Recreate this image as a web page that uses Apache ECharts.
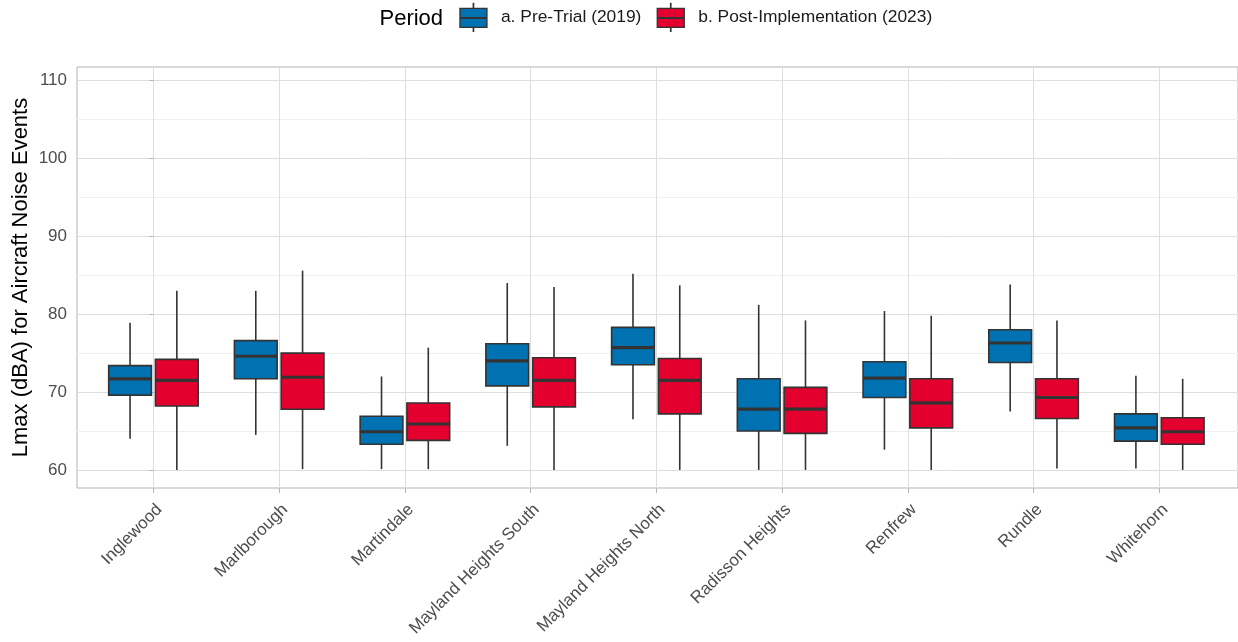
<!DOCTYPE html>
<html><head><meta charset="utf-8">
<script src="https://cdn.jsdelivr.net/npm/echarts@6/dist/echarts.min.js"></script>
<style>html,body{margin:0;padding:0;background:#fff}#c{width:1238px;height:642px}</style>
</head><body><div id="c"></div>
<script>
const categories = ['Inglewood', 'Marlborough', 'Martindale', 'Mayland Heights South', 'Mayland Heights North', 'Radisson Heights', 'Renfrew', 'Rundle', 'Whitehorn'];
const seriesNames = ['a. Pre-Trial (2019)', 'b. Post-Implementation (2023)'];
// each row: [lower whisker, Q1, median, Q3, upper whisker]
const preTrial = [
  [64.0, 69.6, 71.7, 73.4, 78.9],
  [64.5, 71.7, 74.6, 76.6, 83.0],
  [60.1, 63.3, 64.9, 66.9, 72.0],
  [63.1, 70.8, 74.0, 76.2, 84.0],
  [66.5, 73.5, 75.7, 78.3, 85.2],
  [60.0, 65.0, 67.8, 71.7, 81.2],
  [62.6, 69.3, 71.8, 73.9, 80.4],
  [67.5, 73.8, 76.3, 78.0, 83.8],
  [60.2, 63.7, 65.4, 67.2, 72.1]
];
const postImplementation = [
  [60.0, 68.2, 71.5, 74.2, 83.0],
  [60.1, 67.8, 71.9, 75.0, 85.6],
  [60.1, 63.8, 65.9, 68.6, 75.7],
  [60.0, 68.1, 71.5, 74.4, 83.5],
  [60.0, 67.2, 71.5, 74.3, 83.7],
  [60.0, 64.7, 67.8, 70.6, 79.2],
  [60.0, 65.4, 68.6, 71.7, 79.8],
  [60.2, 66.6, 69.3, 71.7, 79.2],
  [60.0, 63.3, 64.9, 66.7, 71.7]
];
const yTicks = [60, 70, 80, 90, 100, 110];
const yMinorTicks = [65, 75, 85, 95, 105];
const yTitle = 'Lmax (dBA) for Aircraft Noise Events';
const legendTitle = 'Period';

const colors = ['#0072B2', '#E3002F'];
const BOX_FRAC = 0.34;
const OFFSETS = [-0.186, 0.186];
const DARK = '#333333';
const FONT = 'Liberation Sans, Arial, sans-serif';

function makeRender(offsetFrac, color) {
  return function (params, api) {
    const i = api.value(0);
    const band = api.size([1, 0])[0];
    const w = band * BOX_FRAC;
    const cx = api.coord([i, 60])[0] + offsetFrac * band;
    const y = k => api.coord([i, api.value(k)])[1];
    const yl = y(1), yq1 = y(2), ym = y(3), yq3 = y(4), yh = y(5);
    return {
      type: 'group',
      children: [
        { type: 'line', shape: { x1: cx, y1: yh, x2: cx, y2: yq3 }, style: { stroke: DARK, lineWidth: 1.6 } },
        { type: 'line', shape: { x1: cx, y1: yq1, x2: cx, y2: yl }, style: { stroke: DARK, lineWidth: 1.6 } },
        { type: 'rect', shape: { x: cx - w / 2, y: yq3, width: w, height: yq1 - yq3 }, style: { fill: color, stroke: DARK, lineWidth: 1.6 } },
        { type: 'line', shape: { x1: cx - w / 2, y1: ym, x2: cx + w / 2, y2: ym }, style: { stroke: DARK, lineWidth: 3.2 } }
      ]
    };
  };
}

const keyPath = 'path://M13.3 0H13.7V5H13.3Z M0 5H27V14.2H0Z M0 15H27V24H0Z M13.3 24H13.7V28H13.3Z';

const chart = echarts.init(document.getElementById('c'), null, { renderer: 'canvas' });
const series = [preTrial, postImplementation].map((rows, s) => ({
  name: seriesNames[s],
  type: 'custom',
  xAxisIndex: 0,
  yAxisIndex: 0,
  itemStyle: { color: colors[s] },
  encode: { x: 0, y: [1, 2, 3, 4, 5] },
  renderItem: makeRender(OFFSETS[s], colors[s]),
  data: rows.map((r, i) => [i].concat(r))
}));

chart.setOption({
  animation: false,
  backgroundColor: '#ffffff',
  textStyle: { fontFamily: FONT },
  title: {
    text: legendTitle, left: 379.5, top: 8, padding: 0,
    textStyle: { fontSize: 22, fontWeight: 'normal', color: '#000000', fontFamily: FONT }
  },
  legend: {
    left: 459.3, top: 2.7, padding: 0, itemWidth: 27, itemHeight: 28, itemGap: 15.2,
    textStyle: { fontSize: 17.4, color: '#1a1a1a', padding: [0, 0, 0, 9], fontFamily: FONT },
    data: seriesNames.map((n, s) => ({
      name: n, icon: keyPath,
      itemStyle: { color: colors[s], borderColor: DARK, borderWidth: 1.3 }
    }))
  },
  grid: { left: 77, width: 1164, top: 67, height: 421, show: true, borderColor: '#b3b3b3', borderWidth: 1, containLabel: false },
  xAxis: [{
    type: 'value', min: -0.608, max: 8.626,
    axisLine: { show: false },
    axisTick: { show: true, customValues: categories.map((c, i) => i), length: 5, lineStyle: { color: '#b3b3b3' } },
    axisLabel: {
      customValues: categories.map((c, i) => i),
      formatter: v => categories[Math.round(v)],
      rotate: 45, align: 'right', verticalAlign: 'top', margin: 13,
      fontSize: 17, color: '#4d4d4d', fontFamily: FONT
    },
    splitLine: { show: true, lineStyle: { color: '#dedede', width: 1 } }
  }],
  yAxis: [{
    type: 'value', min: 57.68, max: 111.74,
    axisLine: { show: false },
    axisTick: { show: true, customValues: yTicks, length: 4, lineStyle: { color: '#b3b3b3' } },
    axisLabel: { customValues: yTicks, fontSize: 17, color: '#4d4d4d', margin: 10, fontFamily: FONT },
    splitLine: { show: true, lineStyle: { color: '#dedede', width: 1 } },
    name: yTitle, nameLocation: 'middle', nameGap: 45, nameMoveOverlap: false,
    nameTextStyle: { fontSize: 22, color: '#000000', fontFamily: FONT }
  }, {
    type: 'value', min: 57.68, max: 111.74, position: 'left',
    axisLine: { show: false },
    axisTick: { show: false, customValues: yMinorTicks },
    axisLabel: { show: false, customValues: yMinorTicks },
    splitLine: { show: true, lineStyle: { color: '#efefef', width: 1 } }
  }],
  series: series
});
</script></body></html>
